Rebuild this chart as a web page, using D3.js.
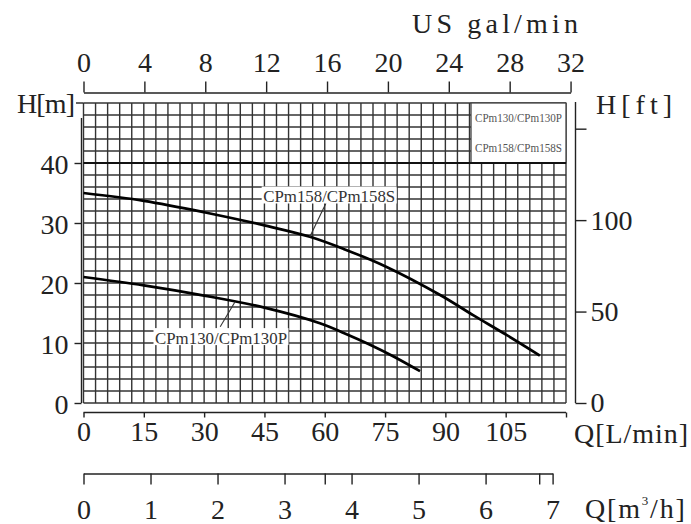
<!DOCTYPE html>
<html><head><meta charset="utf-8">
<script src="https://cdn.jsdelivr.net/npm/d3@7/dist/d3.min.js"></script>
<style>
html,body{margin:0;padding:0;background:#fff;}
text{font-family:"Liberation Serif","DejaVu Serif",serif;}
</style></head>
<body>
<svg id="chart" width="691" height="524"></svg>
<script>
// ---- data ----
const qTicksLmin = [0, 15, 30, 45, 60, 75, 90, 105];
const galTicks = [0, 4, 8, 12, 16, 20, 24, 28, 32];
const m3Ticks = [0, 1, 2, 3, 4, 5, 6, 7];
const m3ExtraTicks = [3.6, 6.8];
const hTicks = [0, 10, 20, 30, 40];
const ftTicks = [0, 50, 100];
const ftExtraTicks = [150];

const series158Name = "CPm158/CPm158S";
const q158 = [0, 15, 30, 45, 56.3, 65, 75, 88.7, 97, 105.3, 113.5];
const h158 = [35, 33.7, 31.8, 29.6, 27.7, 25.6, 22.8, 18.0, 14.6, 11.3, 7.9];

const series130Name = "CPm130/CPm130P";
const q130 = [0, 15, 30, 45, 58.8, 65, 71, 77, 83.7];
const h130 = [21, 19.6, 17.9, 15.9, 13.3, 11.6, 9.8, 7.8, 5.3];

// label anchor (data units): text centre, leader start, leader end on curve
const label158 = {q: 61.1, h: 34.5, lq0: 60.3, lh0: 33.3, lq1: 56.3};
const label130 = {q: 34.2, h: 10.9, lq0: 34.0, lh0: 12.7, lq1: 37.7};

// ---- scales ----
const svg = d3.select("#chart");
const x = d3.scaleLinear().domain([0, 120]).range([83.5, 566]);
const y = d3.scaleLinear().domain([0, 50]).range([403, 103]);
const xg = d3.scaleLinear().domain([0, 32]).range([x(0), x(32 * 3.785411784)]);
const xm = d3.scaleLinear().domain([0, 7]).range([x(0), x(7 * 1000 / 60)]);
const yf = d3.scaleLinear().domain([0, 150]).range([y(0), y(150 * 0.3048)]);

const FS = 28;
const ink = "#222";

// ---- grid ----
const grid = svg.append("g");
grid.selectAll("line.v").data(d3.range(0, 120.001, 3)).enter().append("line")
  .attr("x1", d => x(d)).attr("x2", d => x(d)).attr("y1", y(0)).attr("y2", y(50))
  .attr("stroke", "#333").attr("stroke-width", 1.4);
grid.selectAll("line.h").data(d3.range(0, 50.001, 2)).enter().append("line")
  .attr("x1", x(0)).attr("x2", x(120)).attr("y1", d => y(d)).attr("y2", d => y(d))
  .attr("stroke", "#333").attr("stroke-width", 1.4);

// legend box (top right, inside grid)
svg.append("rect").attr("x", 471).attr("y", y(50)).attr("width", x(120) - 471).attr("height", y(40) - y(50))
  .attr("fill", "#fff").attr("stroke", "#444").attr("stroke-width", 1.3);
svg.append("line").attr("x1", x(0)).attr("x2", x(120)).attr("y1", y(40)).attr("y2", y(40))
  .attr("stroke", "#111").attr("stroke-width", 1.8);
svg.append("text").attr("x", 475).attr("y", 122).attr("font-size", 11.5).attr("fill", "#555")
  .attr("textLength", 87).attr("lengthAdjust", "spacingAndGlyphs").text(series130Name);
svg.append("text").attr("x", 475).attr("y", 152).attr("font-size", 11.5).attr("fill", "#555")
  .attr("textLength", 87).attr("lengthAdjust", "spacingAndGlyphs").text(series158Name);

// ---- curves ----
const line = d3.line().x(d => x(d[0])).y(d => y(d[1])).curve(d3.curveCatmullRom.alpha(0.5));
svg.append("path").datum(q158.map((q, i) => [q, h158[i]])).attr("d", line)
  .attr("fill", "none").attr("stroke", "#000").attr("stroke-width", 2.7);
svg.append("path").datum(q130.map((q, i) => [q, h130[i]])).attr("d", line)
  .attr("fill", "none").attr("stroke", "#000").attr("stroke-width", 2.7);

// curve labels
function curveLabel(L, qs, hs, name) {
  const interp = d3.scaleLinear().domain(qs).range(hs);
  svg.append("line").attr("x1", x(L.lq0)).attr("y1", y(L.lh0)).attr("x2", x(L.lq1)).attr("y2", y(interp(L.lq1)))
    .attr("stroke", "#333").attr("stroke-width", 1.1);
  const w = 135, h = 17;
  svg.append("rect").attr("x", x(L.q) - w / 2).attr("y", y(L.h) - h / 2 - 1).attr("width", w).attr("height", h)
    .attr("fill", "#fff");
  svg.append("text").attr("x", x(L.q)).attr("y", y(L.h) + 6).attr("text-anchor", "middle")
    .attr("font-size", 16.5).attr("fill", "#333").attr("textLength", 132).attr("lengthAdjust", "spacingAndGlyphs")
    .text(name);
}
curveLabel(label158, q158, h158, series158Name);
curveLabel(label130, q130, h130, series130Name);

// ---- axes ----
function styleAxis(g) {
  g.select(".domain").attr("stroke", ink).attr("stroke-width", 1.4);
  g.selectAll(".tick line").attr("stroke", ink).attr("stroke-width", 1.4);
  g.selectAll(".tick text").attr("font-size", FS).attr("fill", ink)
    .attr("font-family", '"Liberation Serif","DejaVu Serif",serif');
}

// top: US gal/min
const gTop = svg.append("g").attr("transform", "translate(0,92.5)")
  .call(d3.axisTop(xg).tickValues(galTicks).tickSize(11).tickSizeOuter(0).tickPadding(10));
styleAxis(gTop);
svg.append("text").attr("x", 412).attr("y", 33).attr("font-size", FS).attr("fill", ink)
  .attr("textLength", 166).attr("lengthAdjust", "spacing").text("US gal/min");

// bottom: L/min
const gBot = svg.append("g").attr("transform", "translate(0,412.5)")
  .call(d3.axisBottom(x).tickValues(qTicksLmin.concat([120])).tickSize(5).tickSizeOuter(0).tickPadding(4)
    .tickFormat(d => d === 120 ? "" : d));
styleAxis(gBot);
gBot.select(".domain").attr("d", `M${x(0)},0H${x(120)}`);
svg.append("text").attr("x", 574).attr("y", 443).attr("font-size", FS).attr("fill", ink)
  .attr("textLength", 114).attr("lengthAdjust", "spacing").text("Q[L/min]");

// bottom 2: m3/h
const gM3 = svg.append("g").attr("transform", "translate(0,473.5)")
  .call(d3.axisBottom(xm).tickValues(m3Ticks.concat(m3ExtraTicks)).tickSize(11).tickSizeOuter(0).tickPadding(15)
    .tickFormat(d => m3Ticks.includes(d) ? d : ""));
styleAxis(gM3);
const qm = svg.append("text").attr("x", 585).attr("y", 518).attr("font-size", FS).attr("fill", ink)
  .attr("letter-spacing", 1.8);
qm.append("tspan").text("Q[m");
qm.append("tspan").attr("font-size", 13).attr("dy", -13).text("3");
qm.append("tspan").attr("dy", 13).text("/h]");

// left: H[m]
const gLeft = svg.append("g").attr("transform", "translate(81.5,0)")
  .call(d3.axisLeft(y).tickValues(hTicks).tickSize(7).tickSizeOuter(0).tickPadding(6));
styleAxis(gLeft);
gLeft.select(".domain").attr("d", `M0,118V${y(0)}`);
gLeft.selectAll(".tick text").attr("dy", "0.36em");
svg.append("text").attr("x", 17).attr("y", 113).attr("font-size", FS).attr("fill", ink)
  .attr("textLength", 58).attr("lengthAdjust", "spacing").text("H[m]");
svg.append("line").attr("x1", 76).attr("x2", x(0)).attr("y1", y(50)).attr("y2", y(50)).attr("stroke", ink).attr("stroke-width", 1.4);

// right: H[ft]
const gRight = svg.append("g").attr("transform", "translate(575.5,0)")
  .call(d3.axisRight(yf).tickValues(ftTicks.concat(ftExtraTicks)).tickSize(11).tickSizeOuter(0).tickPadding(4)
    .tickFormat(d => ftTicks.includes(d) ? d : ""));
styleAxis(gRight);
gRight.select(".domain").attr("d", `M0,${y(50) - 1}V${y(0)}`);
svg.append("text").attr("x", 596).attr("y", 114).attr("font-size", FS).attr("fill", ink)
  .attr("textLength", 76).attr("lengthAdjust", "spacing").text("H[ft]");
</script>
</body></html>
